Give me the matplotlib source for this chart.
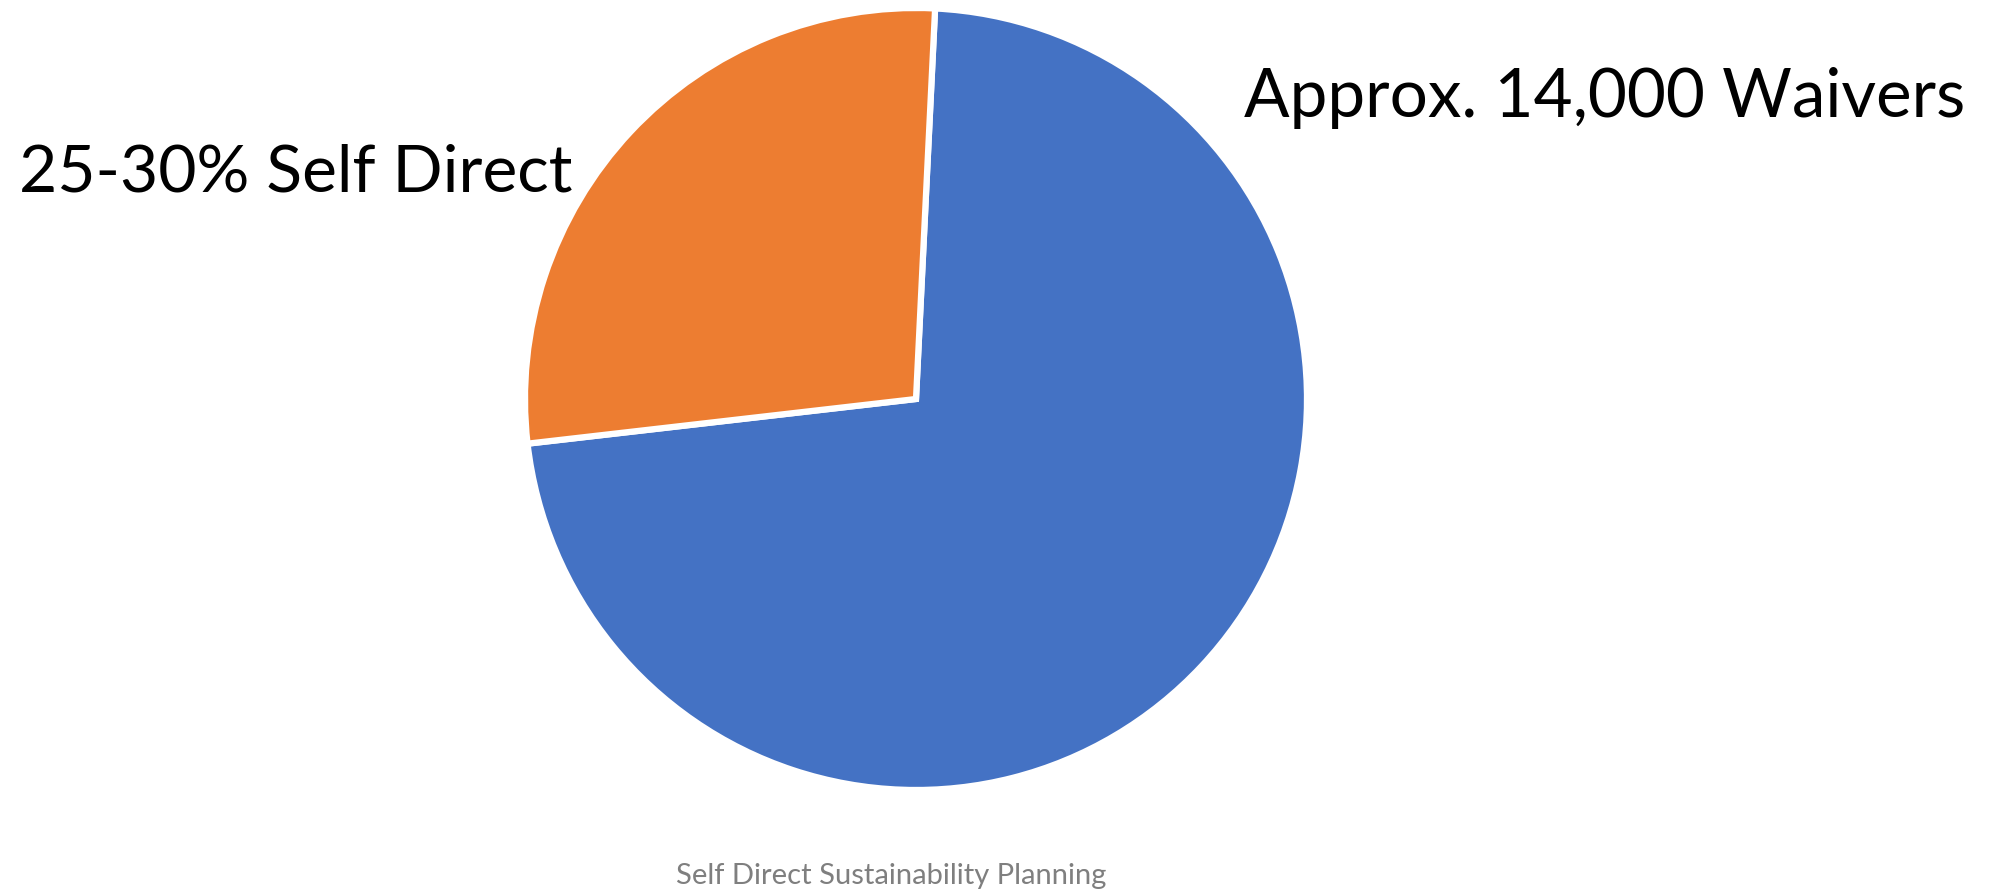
import matplotlib.pyplot as plt

labels = ["Approx. 14,000 Waivers", "25-30% Self Direct"]
shares = [72.4, 27.6]
colors = ["#4472C4", "#ED7D31"]
footer = "Self Direct Sustainability Planning"

W, H = 2001, 892
fig = plt.figure(figsize=(W / 100, H / 100), dpi=100)

# pie centre ~ (916, 399) px, radius ~ 390 px
cx, cy, r = 916, 399, 391
ax = fig.add_axes([(cx - r) / W, (H - cy - r) / H, 2 * r / W, 2 * r / H])
ax.pie(shares, colors=colors, startangle=87.2, counterclock=False,
       wedgeprops=dict(edgecolor="white", linewidth=4.5))
ax.set_xlim(-1, 1)
ax.set_ylim(-1, 1)

font = "Lato"
fig.text(1244 / W, 1 - 117 / H, labels[0], fontsize=48.5, family=font,
         ha="left", va="baseline")
fig.text(19 / W, 1 - 191 / H, labels[1], fontsize=47.5, family=font,
         ha="left", va="baseline")
fig.text(891 / W, 1 - 884 / H, footer, fontsize=21, family=font,
         color="#7F7F7F", ha="center", va="baseline")

fig.savefig("out.png", dpi=100)
